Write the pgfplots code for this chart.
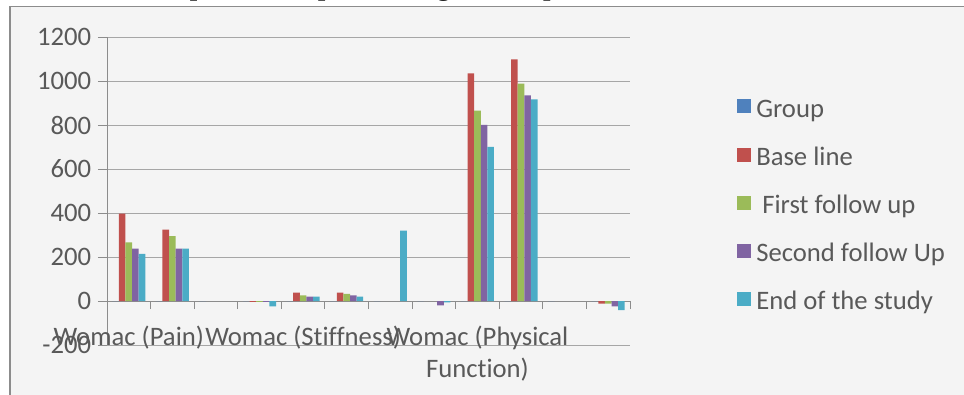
\documentclass[border=0pt]{standalone}
\usepackage{fontspec}
\setmainfont{Carlito}[Ligatures=NoCommon]
\newfontfamily\titlefont{Liberation Serif}
\usepackage{pgfplots}
\pgfplotsset{compat=1.18}
\definecolor{cBlue}{HTML}{4F81BD}
\definecolor{cRed}{HTML}{C0504D}
\definecolor{cGreen}{HTML}{9BBB59}
\definecolor{cPurple}{HTML}{8064A2}
\definecolor{cCyan}{HTML}{4BACC6}
\definecolor{bgGrey}{HTML}{F4F4F4}
\definecolor{frameGrey}{HTML}{8C8C8C}
\definecolor{gridGrey}{HTML}{A6A6A6}
\definecolor{axisGrey}{HTML}{8C8C8C}
\definecolor{textGrey}{HTML}{595959}
\begin{document}
\begin{tikzpicture}[x=1pt,y=1pt]
\useasboundingbox (0,0) rectangle (723,295.5);
\clip (0,0) rectangle (723,295.5);
\fill[white] (0,0) rectangle (723,295.5);
\filldraw[fill=bgGrey, draw=frameGrey, line width=1.2pt] (7.5,-10) rectangle (740,290.6);
\node[anchor=base, inner sep=0pt, font=\titlefont\bfseries\fontsize{20}{24}\selectfont] at (361.5,299.2) {Graph : Subsequent changes in all parameters of WOMAC};
\begin{axis}[
  at={(80.25pt,36.75pt)}, anchor=south west,
  scale only axis, width=392.25pt, height=231pt,
  xmin=-0.5, xmax=11.5, ymin=-200, ymax=1200,
  ytick={-200,0,200,400,600,800,1000,1200},
  xtick={0,4,8},
  xticklabels={Womac (Pain),Womac (Stiffness),Womac (Physical\\Function)},
  minor xtick={0.5,1.5,2.5,3.5,4.5,5.5,6.5,7.5,8.5,9.5,10.5,11.5},
  ymajorgrids, grid style={color=gridGrey, line width=0.75pt},
  axis x line=middle, axis y line=left,
  axis line style={-, color=axisGrey, line width=0.75pt},
  tick align=outside,
  major x tick style={draw=none},
  minor x tick style={color=axisGrey, line width=0.75pt},
  major y tick style={color=axisGrey, line width=0.75pt},
  major tick length=6.75pt, minor tick length=6pt,
  /pgf/number format/assume math mode=true,
  /pgf/number format/1000 sep={},
  ticklabel style={font=\fontsize{20}{24}\selectfont, text=textGrey},
  yticklabel style={inner sep=0pt, anchor=east, xshift=-5pt},
  xticklabel style={align=center, inner sep=0pt, anchor=north, yshift=-12pt},
  ybar=0pt, bar width=4.95pt,
  legend cell align=left,
  legend style={at={(1.2046,0.798)}, anchor=north west, draw=none, fill=none, inner sep=0pt,
    row sep=18.9pt, column sep=3.75pt,
    nodes={inner sep=0pt, text height=13pt, text depth=4pt, text=textGrey, font=\fontsize{20}{24}\selectfont}},
  legend image code/.code={\fill[#1] (0pt,-1.85pt) rectangle (10.5pt,8.65pt);},
]
\addplot[fill=cBlue, draw=none] coordinates {(0,0)(1,0)(2,0)(3,0)(4,0)(5,0)(6,0)(7,0)(8,0)(9,0)(10,0)(11,0)};
\addplot[fill=cRed, draw=none] coordinates {(0,397)(1,324)(3,-4)(4,38)(5,38)(8,1035)(9,1098)(11,-12)};
\addplot[fill=cGreen, draw=none] coordinates {(0,267)(1,295)(3,-4)(4,26)(5,32)(8,865)(9,988)(11,-12)};
\addplot[fill=cPurple, draw=none] coordinates {(0,238)(1,238)(3,-4)(4,20)(5,26)(7,-20)(8,801)(9,935)(11,-24)};
\addplot[fill=cCyan, draw=none] coordinates {(0,214)(1,238)(3,-24)(4,20)(5,20)(6,320)(7,-6)(8,701)(9,917)(11,-42)};
\legend{Group,Base line,\ First follow up,Second follow Up,End of the study}
\end{axis}
\end{tikzpicture}
\end{document}
